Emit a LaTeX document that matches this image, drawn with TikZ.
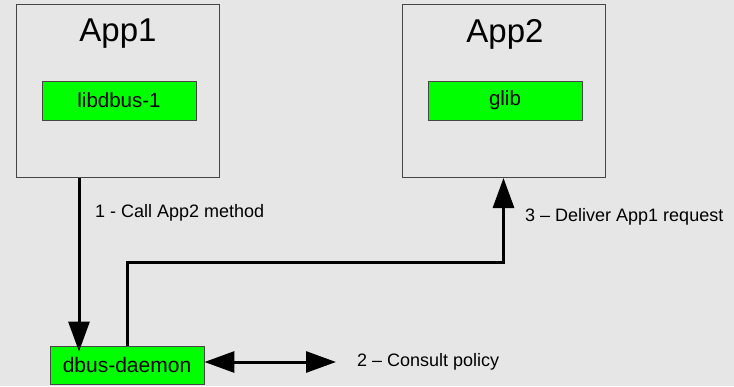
\documentclass[tikz,border=0pt]{standalone}
\usepackage{fontspec}
\setmainfont{Liberation Sans}
\usetikzlibrary{arrows.meta,positioning}

\definecolor{panel}{RGB}{230,230,230}
\definecolor{boxline}{RGB}{70,70,70}
\definecolor{libgreen}{RGB}{0,255,0}

\begin{document}
\begin{tikzpicture}[x=1pt,y=-1pt,
	app/.style={draw=boxline,line width=1pt,minimum width=203pt,minimum height=173pt,inner sep=0pt},
	appname/.style={font=\fontsize{33}{38}\selectfont},
	lib/.style={draw=boxline,fill=libgreen,line width=0.9pt,minimum width=154pt,minimum height=39pt,inner sep=0pt,font=\fontsize{20.5}{24}\selectfont},
	msg/.style={anchor=west,inner sep=2pt,font=\fontsize{18}{22}\selectfont},
	flow/.style={line width=3pt,-{Triangle[length=30pt,width=21pt]}},
	both/.style={line width=3pt,{Triangle[length=30pt,width=21pt]}-{Triangle[length=30pt,width=21pt]}}
]

	\fill[panel] (0,0) rectangle (734,386);

	% the two applications
	\node[app] (app1) at (118,91) {};
	\node[appname] (app1name) at (118,34) {App1};
	\node[lib] (libdbus) at (119,100.5) {libdbus-1};

	\node[app] (app2) at (503.5,91) {};
	\node[appname] (app2name) at (505,34) {App2};
	\node[lib] (glib) at (505,100.5) {glib};

	% the bus
	\node[lib,minimum height=38pt,font=\fontsize{21}{25}\selectfont] (daemon) at (127,365) {dbus-daemon};

	% messages
	\coordinate (policy) at (336,362);
	\coordinate (bend) at (127,262);
	\draw[flow,shorten >=-6pt] (app1.south -| 79,0) -- (daemon.north -| 79,0);
	\draw[both] (daemon.east |- policy) -- (policy);
	\draw[flow] (daemon.north) -- (bend) -| (app2.south);

	\node[msg] (call) at (93,213) {1 - Call App2 method};
	\node[msg] (consult) at (355,362) {2 – Consult policy};
	\node[msg] (deliver) at (523,217) {3 – Deliver App1 request};

\end{tikzpicture}
\end{document}
